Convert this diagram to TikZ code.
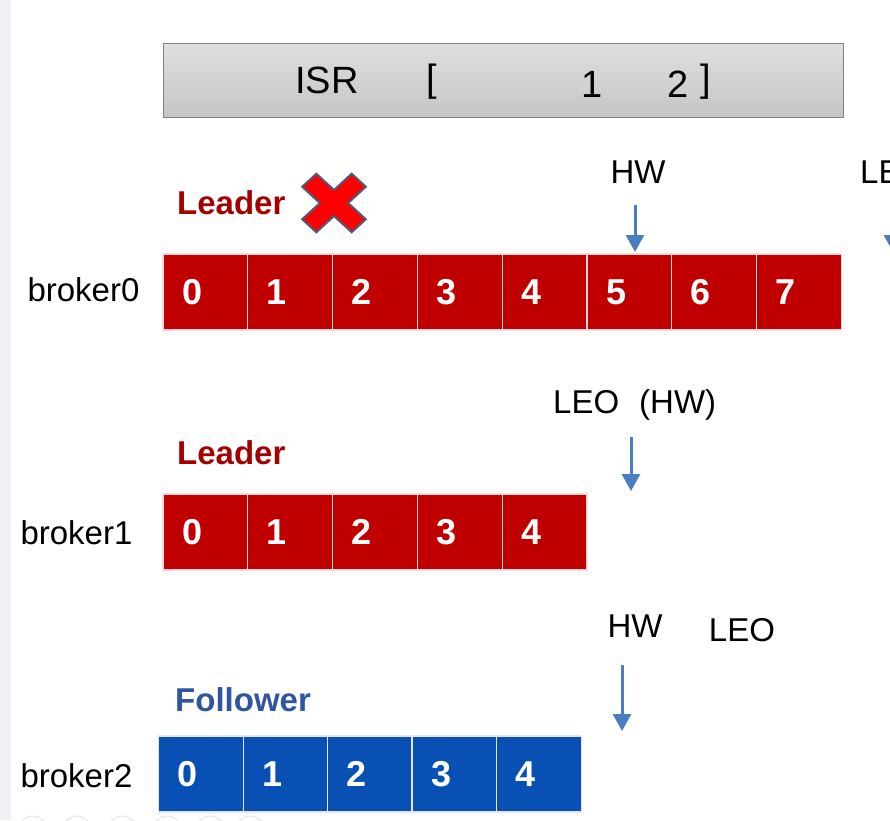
\documentclass[tikz,border=0pt]{standalone}
\usepackage{fontspec}
\setmainfont{Liberation Sans}
\usetikzlibrary{arrows.meta}
\definecolor{cellred}{RGB}{192,0,0}
\definecolor{cellblue}{RGB}{8,80,180}
\definecolor{leadred}{RGB}{165,0,0}
\definecolor{follblue}{RGB}{47,85,160}
\definecolor{arrblue}{RGB}{74,126,192}
\definecolor{xred}{RGB}{255,0,0}
\definecolor{xedge}{RGB}{80,90,120}
\definecolor{stripc}{RGB}{238,240,246}
\begin{document}
\begin{tikzpicture}[x=1pt,y=-1pt,
  cellbase/.style={rectangle, minimum width=84.8pt, minimum height=76pt,
    inner xsep=19pt, inner ysep=0pt, text width=46.8pt, align=left,
    line width=1.2pt, text=white, font=\fontsize{36}{40}\selectfont\bfseries},
  redcell/.style={cellbase, fill=cellred, draw=red!15!white},
  bluecell/.style={cellbase, fill=cellblue, draw=blue!10!white},
  lbl/.style={inner sep=0pt, font=\fontsize{33}{38}\selectfont},
  isrtxt/.style={inner sep=0pt, font=\fontsize{38}{44}\selectfont},
  role/.style={inner sep=0pt, anchor=west, font=\fontsize{33}{38}\selectfont\bfseries},
  arr/.style={draw=arrblue, line width=3pt, -{Triangle[width=18pt,length=17pt]}},
  bar/.style={rectangle, minimum width=680pt, minimum height=74pt, draw=gray,
    line width=1pt, top color=gray!25, bottom color=gray!45}
]
\useasboundingbox (0,0) rectangle (890,820);
\fill[white] (0,0) rectangle (890,820);
\fill[stripc] (0,0) rectangle (11,820);
\foreach \cx in {33,77,122,167,210,250}
  \draw[gray!20, line width=1pt] (\cx,830) circle (14);

% ISR bar
\node[bar] (isr) at (503,80) {};
\node[isrtxt] (isrl) at (327,80) {ISR};
\node[isrtxt] (lb) at (432,82) {[};
\node[isrtxt] (one) at (592,84) {1};
\node[isrtxt] (two) at (678,84) {2};
\node[isrtxt] (rb) at (706,82) {]};

% broker0
\node[role, text=leadred] (lead0) at (177,203) {Leader};
\begin{scope}[shift={(334,203)}, yscale=0.92, rotate=45]
  \draw[fill=xred, draw=xedge, line width=2pt]
    (10,35) -- (10,10) -- (35,10) -- (35,-10) -- (10,-10) -- (10,-35)
    -- (-10,-35) -- (-10,-10) -- (-35,-10) -- (-35,10) -- (-10,10)
    -- (-10,35) -- cycle;
\end{scope}
\node[lbl] (b0) at (83.5,290) {broker0};
\foreach \i in {0,...,7}
  \node[redcell] (a\i) at ({163+84.8*\i+42.4},292) {\i};
\node[lbl] (hw0) at (638,172) {HW};
\node[lbl, anchor=west] (leo0) at (860,172) {LEO};
\coordinate (h0s) at (635,205); \coordinate (h0e) at (635,252);
\coordinate (l0s) at (893,205); \coordinate (l0e) at (893,252);
\draw[arr] (h0s) -- (h0e);
\draw[arr] (l0s) -- (l0e);

% broker1
\node[role, text=leadred] (lead1) at (177,453) {Leader};
\node[lbl] (b1) at (76.5,533) {broker1};
\foreach \i in {0,...,4}
  \node[redcell] (c\i) at ({163+84.8*\i+42.4},532) {\i};
\node[lbl, anchor=west] (leo1) at (553,405) {LEO\hspace{20pt}(HW)};
\coordinate (l1s) at (631,437); \coordinate (l1e) at (631,491);
\draw[arr] (l1s) -- (l1e);

% broker2
\node[role, text=follblue] (foll2) at (175,700) {Follower};
\node[lbl] (b2) at (76.5,776) {broker2};
\foreach \i in {0,...,4}
  \node[bluecell] (d\i) at ({159+84.4*\i+42.2},774) {\i};
\node[lbl] (hw2) at (635,626) {HW};
\node[lbl] (leo2) at (742,630) {LEO};
\coordinate (h2s) at (622,665); \coordinate (h2e) at (622,731);
\draw[arr] (h2s) -- (h2e);
\end{tikzpicture}
\end{document}
